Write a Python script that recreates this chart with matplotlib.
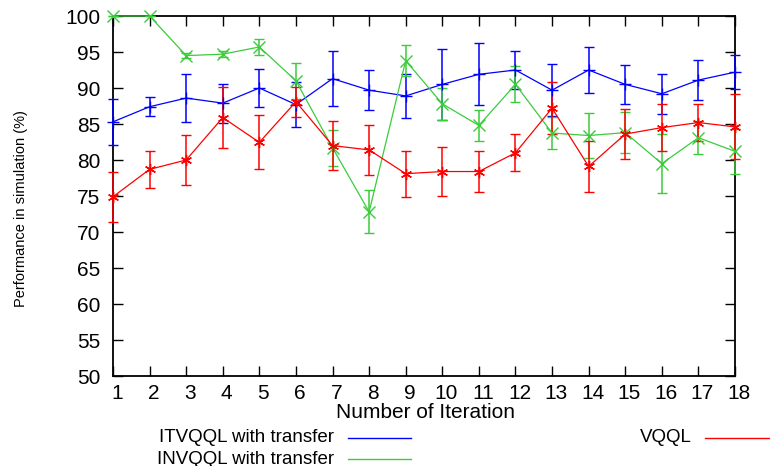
import matplotlib
matplotlib.use("Agg")
import matplotlib.pyplot as plt
import matplotlib.transforms as mtransforms
from matplotlib.lines import Line2D

# Iteration index
iterations = list(range(1, 19))

# ITVQQL with transfer: mean performance and error
itvqql_mean = [85.3, 87.4, 88.6, 87.9, 90.0, 87.7, 91.3, 89.7, 88.9, 90.5,
               91.9, 92.5, 89.7, 92.5, 90.5, 89.2, 91.1, 92.2]
itvqql_err = [3.2, 1.3, 3.3, 2.7, 2.7, 3.1, 3.8, 2.75, 3.0, 4.9,
              4.3, 2.7, 3.6, 3.2, 2.75, 2.75, 2.8, 2.4]

# INVQQL with transfer
invqql_mean = [100.0, 100.0, 94.5, 94.7, 95.7, 91.0, 81.7, 72.8, 93.8, 87.8,
               84.8, 90.5, 83.75, 83.4, 83.8, 79.5, 83.1, 81.2]
invqql_err = [0.0, 0.0, 0.4, 0.4, 1.1, 2.5, 2.5, 3.0, 2.2, 2.2,
              2.1, 2.5, 2.2, 3.1, 2.8, 4.1, 2.3, 3.1]

# VQQL
vqql_mean = [74.9, 78.7, 80.0, 85.9, 82.45, 88.1, 82.0, 81.4, 78.1, 78.4,
             78.4, 81.0, 87.2, 79.1, 83.6, 84.5, 85.2, 84.6]
vqql_err = [3.5, 2.6, 3.5, 4.2, 3.75, 2.1, 3.4, 3.5, 3.2, 3.45,
            2.85, 2.55, 3.6, 3.55, 3.5, 3.3, 2.6, 4.5]

y_ticks = [50, 55, 60, 65, 70, 75, 80, 85, 90, 95, 100]

labels = ["ITVQQL with transfer", "INVQQL with transfer", "VQQL"]
colors = ["#0000ff", "#3acc3a", "#ff0000"]
markers = ["+", "x", (6, 2, 0)]

plt.rcParams['font.family'] = ['Liberation Sans', 'DejaVu Sans']

W, H = 770, 466
fig = plt.figure(figsize=(W / 100, H / 100), dpi=100)
ax = fig.add_axes([113 / W, 1 - 376 / H, (735 - 113) / W, (376 - 16) / H])

series = [(itvqql_mean, itvqql_err), (invqql_mean, invqql_err), (vqql_mean, vqql_err)]
for (mean, err), col, mk in zip(series, colors, markers):
    ax.errorbar(iterations, mean, yerr=err, color=col, lw=0.9, elinewidth=1.1,
                capsize=3.6, capthick=1.1, marker=mk, markersize=8,
                markeredgewidth=1.0, clip_on=False, zorder=3)

ax.set_xlim(1, 18)
ax.set_ylim(50, 100)
ax.set_xticks(iterations)
ax.set_yticks(y_ticks)
ax.tick_params(direction='in', length=7, width=1.0, top=True, right=True,
               labelsize=15, colors='black')
ax.tick_params(axis='x', pad=6)
ax.tick_params(axis='y', pad=9)
for sp in ax.spines.values():
    sp.set_linewidth(1.3)

# nudge the x tick labels slightly right
offset = mtransforms.ScaledTranslation(4 / 100, 0, fig.dpi_scale_trans)
for lbl in ax.get_xticklabels():
    lbl.set_transform(lbl.get_transform() + offset)

fig.text(425 / W, 1 - 413 / H, "Number of Iteration", ha='center', va='center',
         fontsize=15)
fig.text(21 / W, 1 - 209 / H, "Performance in simulation (%)", rotation=90,
         ha='center', va='center', fontsize=10.5)

# legend rows placed under the axis label
legend_rows = [
    (labels[0], colors[0], 334, 348, 411, 438),
    (labels[1], colors[1], 334, 348, 411, 459),
    (labels[2], colors[2], 692, 705, 775, 438),
]
for text, col, tx, x0, x1, y in legend_rows:
    fig.text(tx / W, 1 - y / H, text, ha='right', va='center', fontsize=13.5)
    fig.add_artist(Line2D([x0 / W, x1 / W], [1 - y / H, 1 - y / H],
                          color=col, lw=1.0, transform=fig.transFigure))

fig.savefig("out.png", dpi=100)
